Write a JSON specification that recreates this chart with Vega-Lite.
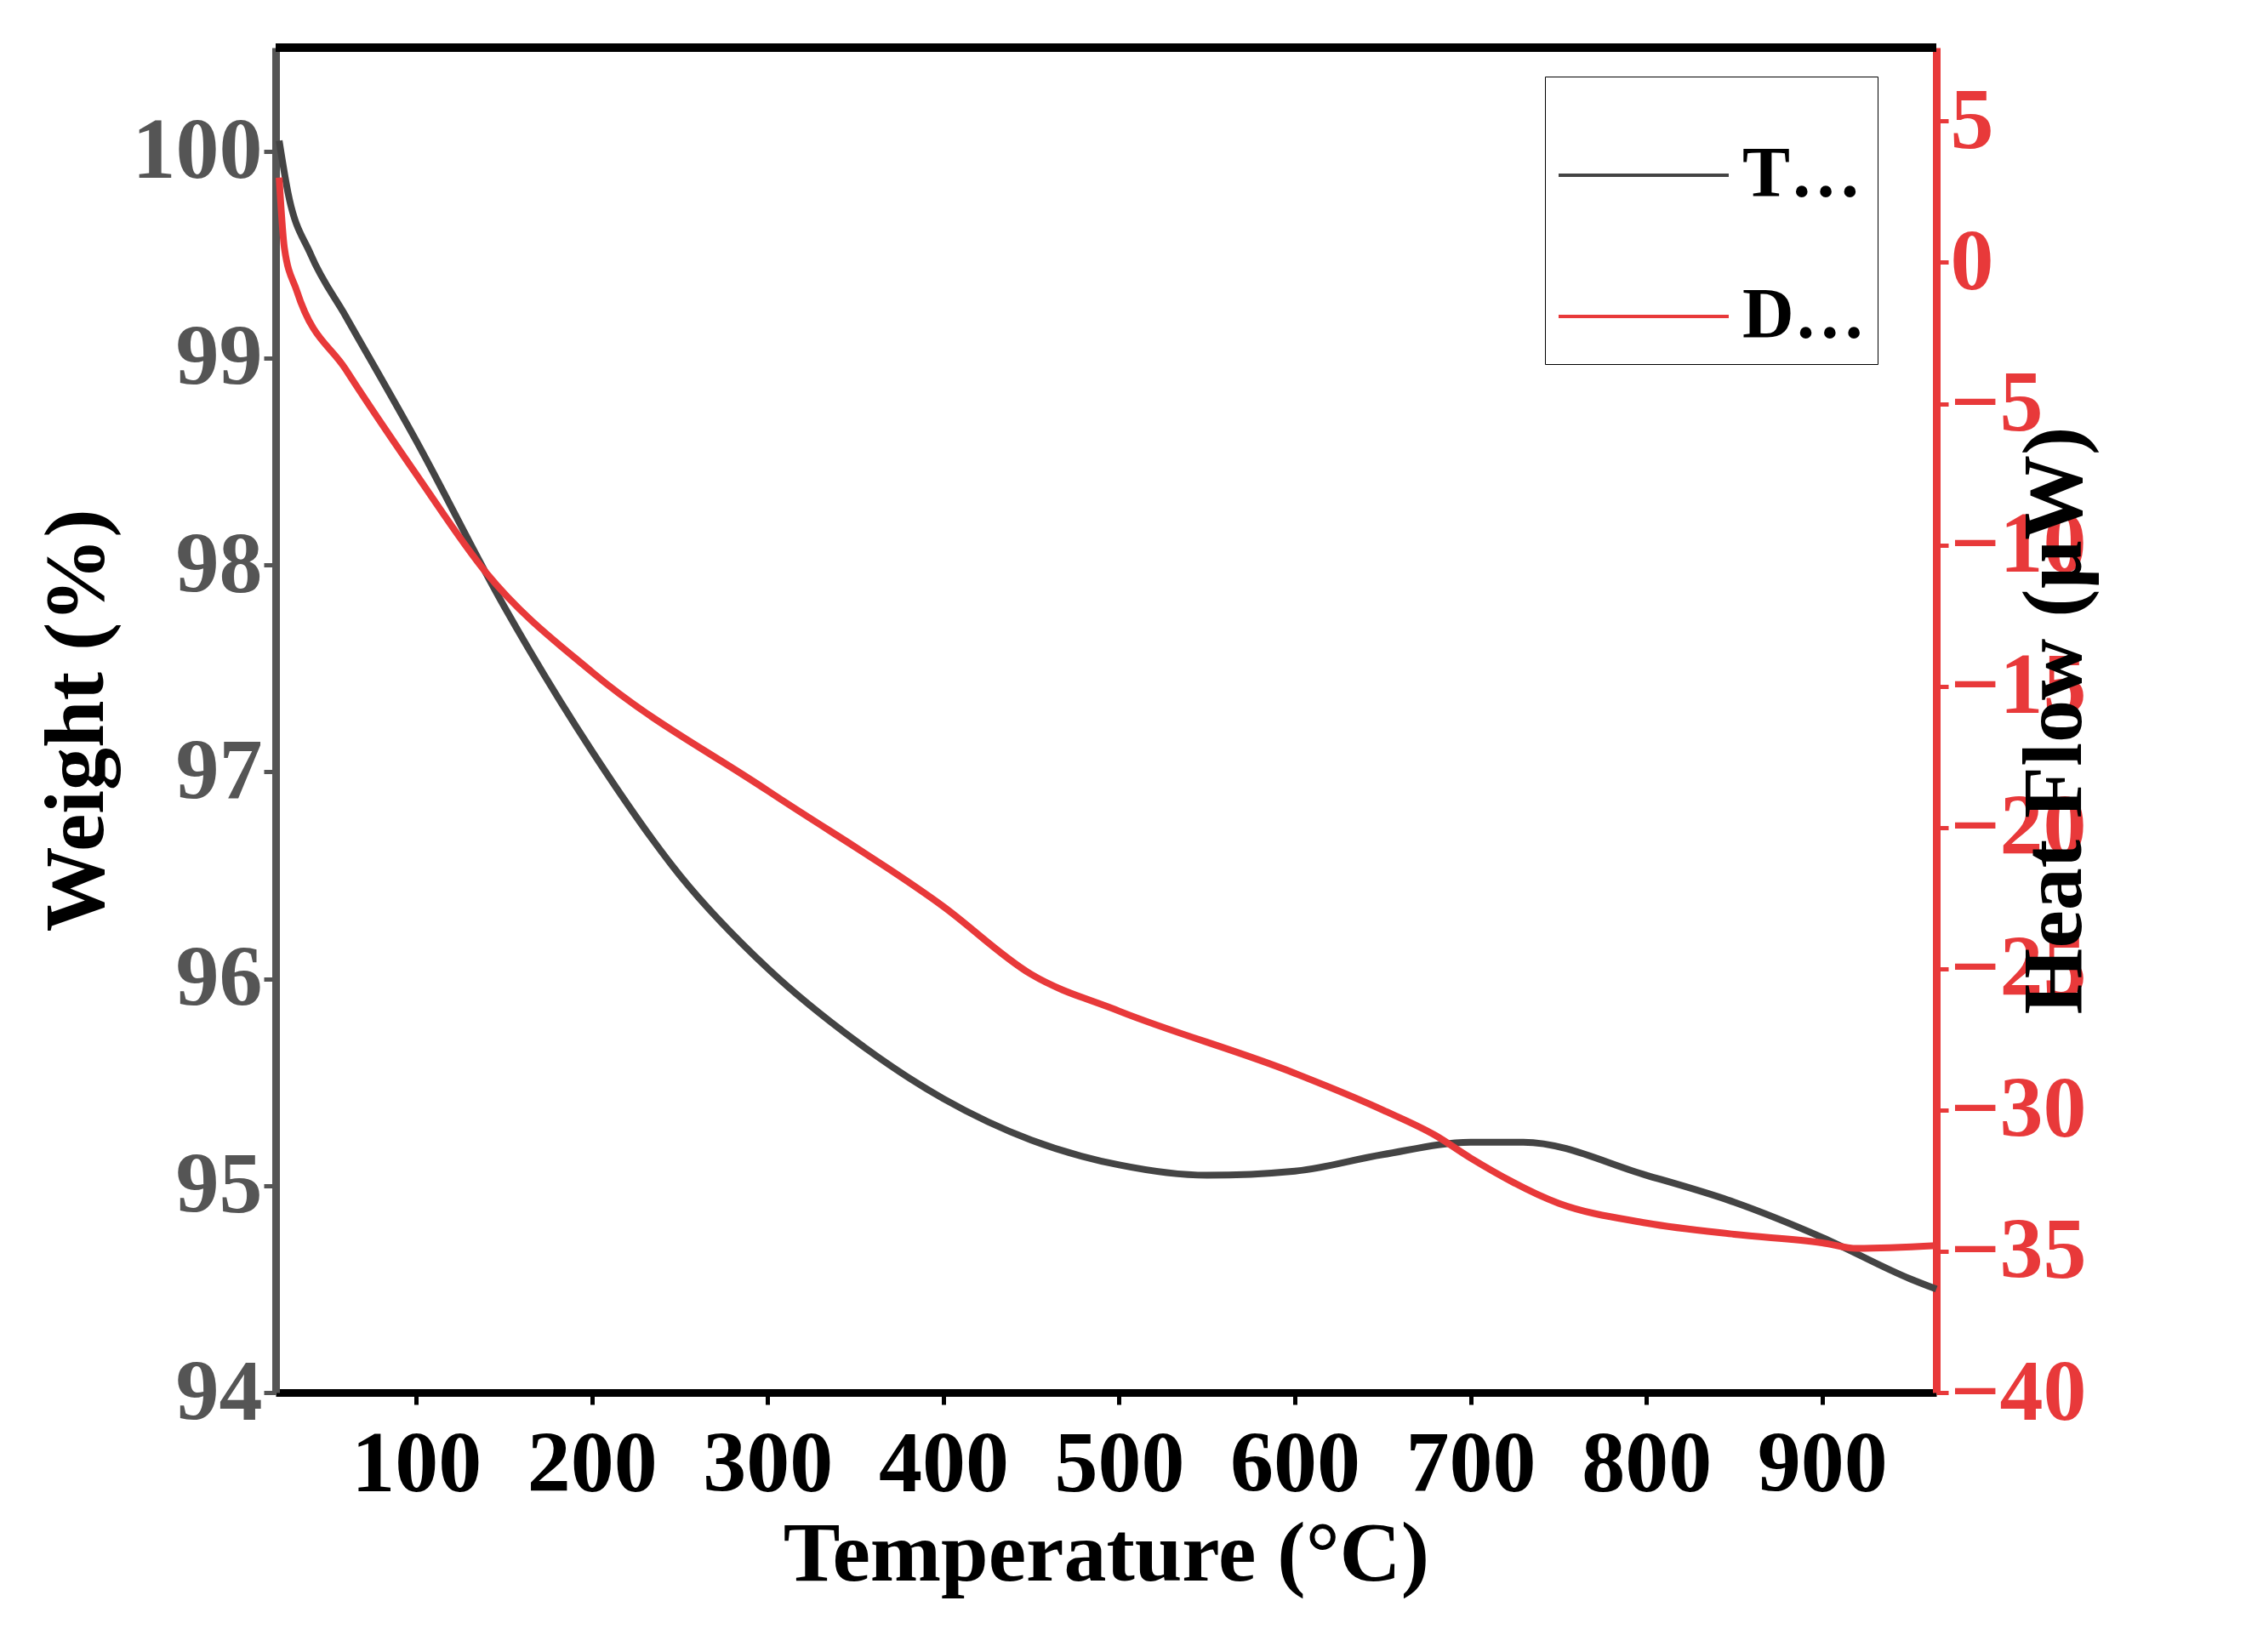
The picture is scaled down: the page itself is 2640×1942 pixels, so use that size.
{
  "$schema": "https://vega.github.io/schema/vega-lite/v6.json",
  "width": 1952,
  "height": 1581,
  "autosize": "none",
  "padding": {"left": 324, "top": 56, "right": 364, "bottom": 305},
  "background": "white",
  "config": {
    "font": "Liberation Serif",
    "view": {"stroke": null},
    "axis": {"labelFont": "Liberation Serif", "titleFont": "Liberation Serif", "labelFontWeight": "bold", "titleFontWeight": "bold", "labelFontSize": 102, "titleFontSize": 100, "grid": false, "domainWidth": 9, "tickWidth": 5, "tickSize": 14}
  },
  "datasets": {
    "tga": [
      {"t": 22, "w": 100.05}, {"t": 27, "w": 99.8}, {"t": 40, "w": 99.5}, {"t": 60, "w": 99.2}, {"t": 100, "w": 98.6},
      {"t": 150, "w": 97.8}, {"t": 200, "w": 97.1}, {"t": 250, "w": 96.5}, {"t": 300, "w": 96.05},
      {"t": 350, "w": 95.7}, {"t": 400, "w": 95.42}, {"t": 450, "w": 95.22}, {"t": 500, "w": 95.1},
      {"t": 550, "w": 95.05}, {"t": 600, "w": 95.07}, {"t": 650, "w": 95.15}, {"t": 700, "w": 95.21},
      {"t": 730, "w": 95.21}, {"t": 800, "w": 95.05}, {"t": 850, "w": 94.92}, {"t": 900, "w": 94.75},
      {"t": 950, "w": 94.55}, {"t": 965, "w": 94.5}
    ],
    "dsc": [
      {"t": 22, "h": 3.0}, {"t": 25, "h": 0.5}, {"t": 32, "h": -1}, {"t": 60, "h": -3.8},
      {"t": 100, "h": -7.5}, {"t": 140, "h": -11}, {"t": 200, "h": -14.5}, {"t": 300, "h": -18.7},
      {"t": 400, "h": -22.8}, {"t": 450, "h": -25.2}, {"t": 500, "h": -26.5}, {"t": 600, "h": -28.7},
      {"t": 650, "h": -30}, {"t": 680, "h": -30.9}, {"t": 700, "h": -31.7}, {"t": 750, "h": -33.3},
      {"t": 800, "h": -34}, {"t": 850, "h": -34.4}, {"t": 900, "h": -34.7}, {"t": 920, "h": -34.9},
      {"t": 965, "h": -34.8}
    ]
  },
  "layer": [
    {
      "data": {"name": "tga"},
      "transform": [{"calculate": "'TGA'", "as": "s"}],
      "mark": {"type": "line", "strokeWidth": 8, "interpolate": "monotone"},
      "encoding": {
        "x": {"field": "t", "type": "quantitative", "scale": {"domain": [20, 965], "nice": false},
          "axis": {"values": [100, 200, 300, 400, 500, 600, 700, 800, 900], "title": "Temperature (°C)", "domainColor": "black", "tickColor": "black", "labelColor": "black", "titleColor": "black", "labelPadding": 20, "titlePadding": 6}},
        "y": {"field": "w", "type": "quantitative", "scale": {"domain": [94, 100.5], "nice": false},
          "axis": {"values": [94, 95, 96, 97, 98, 99, 100], "title": "Weight (%)", "domainColor": "#555555", "tickColor": "#555555", "labelColor": "#555555", "titleColor": "black", "titlePadding": 14}},
        "color": {"field": "s", "type": "nominal", "scale": {"domain": ["TGA", "DSC"], "range": ["#444444", "#e8393a"]},
          "legend": {"orient": "none", "legendX": 1492, "legendY": 34, "title": null, "symbolType": "stroke", "symbolSize": 40000, "symbolStrokeWidth": 4, "labelFontSize": 84, "labelFont": "Liberation Serif", "labelFontWeight": "bold", "labelColor": "black", "strokeColor": "black", "padding": 14, "rowPadding": 22, "labelOffset": 14}}
      }
    },
    {
      "data": {"name": "dsc"},
      "transform": [{"calculate": "'DSC'", "as": "s"}],
      "mark": {"type": "line", "strokeWidth": 8, "interpolate": "monotone"},
      "encoding": {
        "x": {"field": "t", "type": "quantitative"},
        "y": {"field": "h", "type": "quantitative", "scale": {"domain": [-40, 7.6], "nice": false},
          "axis": {"orient": "right", "values": [-40, -35, -30, -25, -20, -15, -10, -5, 0, 5], "title": "Heat Flow (µW)", "titleAngle": 270, "domainColor": "#e8393a", "tickColor": "#e8393a", "labelColor": "#e8393a", "titleColor": "black", "titlePadding": 14}},
        "color": {"field": "s", "type": "nominal"}
      }
    },
    {
      "data": {"values": [{"t": 20}]},
      "mark": {"type": "rule", "color": "black", "strokeWidth": 10},
      "encoding": {"y": {"value": 0}, "x": {"value": 0}, "x2": {"value": 1952}}
    }
  ],
  "resolve": {"scale": {"y": "independent"}}
}
